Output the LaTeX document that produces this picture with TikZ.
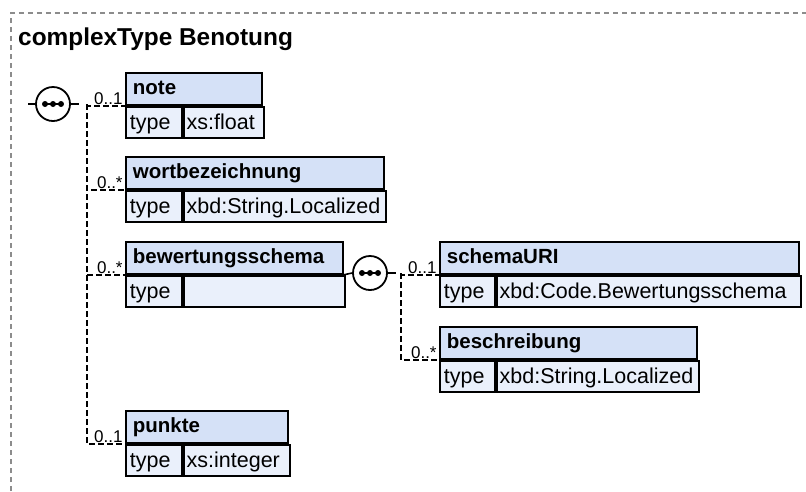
\documentclass[tikz,border=0pt]{standalone}
\usepackage{fontspec}
\setmainfont{Liberation Sans}
\usetikzlibrary{positioning}

\definecolor{hdrblue}{HTML}{D5E1F7}
\definecolor{rowblue}{HTML}{EAF0FB}
\definecolor{framegray}{HTML}{8C8C8C}

\tikzset{
  elemhdr/.style={draw, fill=hdrblue, line width=1.8pt, anchor=north west,
    minimum height=32pt, inner xsep=7pt, inner ysep=0pt, align=left,
    text height=15pt, text depth=4pt, font=\fontsize{20.5}{23}\selectfont\bfseries},
  typlbl/.style={draw, fill=rowblue, line width=1.8pt, anchor=north west,
    minimum height=31pt, inner xsep=4pt, inner ysep=0pt, align=left, text width=48pt,
    text height=18pt, text depth=3pt, font=\fontsize{21.5}{24}\selectfont},
  typval/.style={typlbl, inner xsep=3pt, text width=#1},
  mult/.style={font=\fontsize{17}{19}\selectfont, inner sep=1.2pt, anchor=south east},
  seq/.style={circle, draw, fill=white, line width=1.8pt, minimum size=34pt, inner sep=0pt},
  conn/.style={line width=1.6pt, dash pattern=on 5.5pt off 3.5pt},
  stub/.style={line width=1.6pt}
}

\begin{document}
\begin{tikzpicture}[x=1pt,y=-1pt]
  \useasboundingbox (0,0) rectangle (806,491);
  \draw[framegray, line width=1.2pt, dash pattern=on 5pt off 4pt] (11,491) |- (806,13);

  \node[anchor=base west, inner sep=0pt, font=\fontsize{24.4}{28}\selectfont\bfseries]
    (title) at (18,45) {complexType Benotung};

  % sequence of Benotung
  \node[seq] (seq1) at (53,104) {};
  \coordinate (in1) at (28,104);
  \coordinate (fork1) at (87,104);
  \draw[stub] (in1) -- (seq1.west);
  \draw[stub] (seq1.east) -- ++(8,0);

  % note
  \node[elemhdr, text width=122pt] (notehdr) at (125,72) {note};
  \node[typlbl] (notelbl) at (notehdr.south west) {type};
  \node[typval=74pt] (noteval) at (notelbl.north east) {xs:float};

  % wortbezeichnung
  \node[elemhdr, text width=244pt] (worthdr) at (125,156) {wortbezeichnung};
  \node[typlbl] (wortlbl) at (worthdr.south west) {type};
  \node[typval=196pt] (wortval) at (wortlbl.north east) {xbd:String.Localized};

  % bewertungsschema
  \node[elemhdr, text width=203pt] (bewhdr) at (125,241) {bewertungsschema};
  \node[typlbl] (bewlbl) at (bewhdr.south west) {type};
  \node[typval=155pt] (bewval) at (bewlbl.north east) {};

  % punkte
  \node[elemhdr, text width=148pt] (punktehdr) at (125,410) {punkte};
  \node[typlbl] (punktelbl) at (punktehdr.south west) {type};
  \node[typval=100pt] (punkteval) at (punktelbl.north east) {xs:integer};

  \draw[conn] (fork1) |- (notehdr.south west);
  \draw[conn] (fork1) |- (worthdr.south west);
  \draw[conn] (fork1) |- (bewhdr.south west);
  \draw[conn] (fork1) |- (punktehdr.south west);
  \node[mult] (mnote) at ([xshift=-1pt]notehdr.south west) {0..1};
  \node[mult] (mwort) at ([xshift=-1pt]worthdr.south west) {0..*};
  \node[mult] (mbew) at ([xshift=-1pt]bewhdr.south west) {0..*};
  \node[mult] (mpunkte) at ([xshift=-1pt]punktehdr.south west) {0..1};

  % sequence of bewertungsschema
  \node[seq] (seq2) at (370,273) {};
  \coordinate (fork2) at (401,273);
  \draw[stub] (bewhdr.south east) -- (seq2.west);
  \draw[stub] (seq2.east) -- ++(8,0);

  % schemaURI
  \node[elemhdr, text width=345pt] (urihdr) at (439,241) {schemaURI};
  \node[typlbl, text width=47pt] (urilbl) at (urihdr.south west) {type};
  \node[typval=298pt] (urival) at (urilbl.north east) {xbd:Code.Bewertungsschema};

  % beschreibung
  \node[elemhdr, text width=243pt] (beschhdr) at (439,326) {beschreibung};
  \node[typlbl, text width=47pt] (beschlbl) at (beschhdr.south west) {type};
  \node[typval=196pt] (beschval) at (beschlbl.north east) {xbd:String.Localized};

  \draw[conn] (fork2) |- (urihdr.south west);
  \draw[conn] (fork2) |- (beschhdr.south west);
  \node[mult] (muri) at ([xshift=-1pt]urihdr.south west) {0..1};
  \node[mult] (mbesch) at ([xshift=-1pt]beschhdr.south west) {0..*};

  % dots inside the sequence circles
  \foreach \s in {seq1,seq2} {
    \draw[stub] ([xshift=-8pt]\s.center) -- ([xshift=8pt]\s.center);
    \foreach \dx in {-8,0,8}
      \fill ([xshift=\dx pt]\s.center) circle (3pt);
  }
\end{tikzpicture}
\end{document}
